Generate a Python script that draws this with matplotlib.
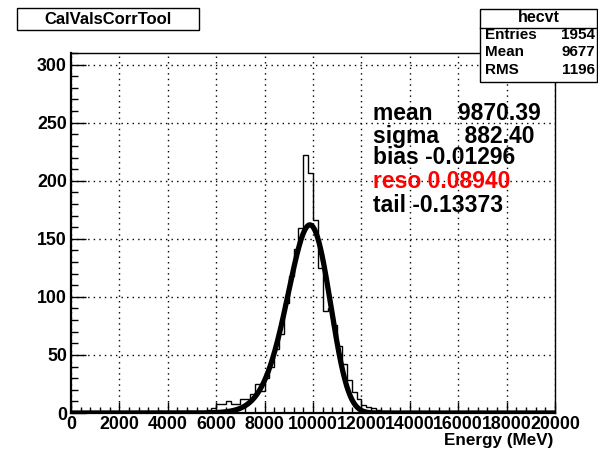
import numpy as np
import matplotlib
matplotlib.use("Agg")
import matplotlib.pyplot as plt
from matplotlib.ticker import MultipleLocator
from matplotlib.patches import Rectangle
from matplotlib.lines import Line2D

plt.rcParams['font.family'] = ['Liberation Sans', 'DejaVu Sans']
plt.rcParams['font.weight'] = 'bold'

# ---- data ----
bin_low = 0
bin_high = 20000
n_bins = 100
counts = [0] * 100
tail_left = {10: 1, 14: 1, 18: 2, 21: 1, 24: 2, 26: 1, 28: 3, 29: 4}
core = [8, 8, 10, 8, 8,            # 6000-7000
        12, 12, 16, 25, 19,        # 7000-8000
        30, 40, 55, 68, 95,        # 8000-9000
        118, 141, 159, 222, 207,   # 9000-10000
        166, 125, 88, 90, 76,      # 10000-11000
        58, 42, 28, 18, 12,        # 11000-12000
        7, 5, 4, 3, 2, 2, 1, 1, 1, 1]  # 12000-14000
for k, v in tail_left.items():
    counts[k] = v
for j, v in enumerate(core):
    counts[30 + j] = v

fit_mean = 9870.39
fit_sigma = 882.40
fit_tail = -0.13373
fit_peak = 162.0
fit_labels = ["mean    9870.39", "sigma    882.40", "bias -0.01296", "reso 0.08940", "tail -0.13373"]
fit_label_colors = ["black", "black", "black", "red", "black"]

stats_name = "hecvt"
stats_rows = [("Entries", "1954"), ("Mean", "9677"), ("RMS", "1196")]
title = "CalValsCorrTool"
xlabel = "Energy (MeV)"

# ---- figure ----
W, H = 598, 451
fig = plt.figure(figsize=(W / 100, H / 100), dpi=100)
fig.patch.set_facecolor('white')
L, R, B, T = 71, 555, 413, 53
ax = fig.add_axes([L / W, 1 - B / H, (R - L) / W, (B - T) / H])

edges = np.linspace(bin_low, bin_high, n_bins + 1)
ax.stairs(counts, edges, color='black', lw=1.0, baseline=0)


def novosibirsk(x, peak, m, s, tau):
    sl4 = np.sqrt(np.log(4.0))
    lam = np.sinh(tau * sl4) / (s * tau * sl4)
    arg = 1.0 + lam * tau * (x - m)
    out = np.zeros_like(x)
    ok = arg > 1e-12
    lg = np.log(arg[ok])
    out[ok] = peak * np.exp(-0.5 * (lg / tau) ** 2 - 0.5 * tau ** 2) / np.exp(-0.5 * tau ** 2)
    return out


xf = np.linspace(bin_low, bin_high, 2000)
ax.plot(xf, novosibirsk(xf, fit_peak, fit_mean, fit_sigma, fit_tail), color='black', lw=3.8,
        solid_capstyle='butt')

ax.set_xlim(bin_low, bin_high)
ax.set_ylim(0, 310)
ax.xaxis.set_major_locator(MultipleLocator(2000))
ax.xaxis.set_minor_locator(MultipleLocator(400))
ax.yaxis.set_major_locator(MultipleLocator(50))
ax.yaxis.set_minor_locator(MultipleLocator(10))
ax.grid(True, which='major', color='black', linestyle=(0, (1, 3)), lw=1.0)
ax.set_axisbelow(True)
ax.tick_params(axis='x', which='major', direction='in', length=8, width=1, labelsize=12.8, pad=2)
ax.tick_params(axis='x', which='minor', direction='in', length=4, width=1)
ax.tick_params(axis='y', which='major', direction='in', length=10.5, width=1, labelsize=12.8, pad=3)
ax.tick_params(axis='y', which='minor', direction='in', length=5, width=1)
ax.xaxis.set_major_formatter(matplotlib.ticker.FuncFormatter(lambda v, p: f"{int(v)}"))
ax.yaxis.set_major_formatter(matplotlib.ticker.FuncFormatter(lambda v, p: f"{int(v)}"))
for lab in ax.get_xticklabels() + ax.get_yticklabels():
    lab.set_fontweight('bold')
for s in ['left', 'bottom']:
    ax.spines[s].set_linewidth(1.6)
for s in ['top', 'right']:
    ax.spines[s].set_linewidth(1.0)

fig.text(553 / W, 1 - 441 / H, xlabel, ha='right', va='center', fontsize=12.3, fontweight='bold')

# fit parameter text
ys = [114, 136, 158, 181, 205]
for t, c, y in zip(fit_labels, fit_label_colors, ys):
    fig.text(373 / W, 1 - y / H, t, ha='left', va='center', fontsize=16.5, fontweight='bold', color=c)

# title box
tx0, tx1, ty0, ty1 = 17, 199, 8, 30
fig.patches.append(Rectangle((tx0 / W, 1 - ty1 / H), (tx1 - tx0) / W, (ty1 - ty0) / H,
                             transform=fig.transFigure, fill=True, facecolor='white',
                             edgecolor='black', lw=1.0))
fig.text((tx0 + tx1) / 2 / W, 1 - (ty0 + ty1) / 2 / H, title, ha='center', va='center',
         fontsize=12, fontweight='bold')

# stats box
sx0, sx1, sy0, sy1 = 480, 597, 9, 82
fig.patches.append(Rectangle((sx0 / W, 1 - sy1 / H), (sx1 - sx0) / W, (sy1 - sy0) / H,
                             transform=fig.transFigure, fill=True, facecolor='white',
                             edgecolor='black', lw=1.0, zorder=5))
fig.lines.append(Line2D([sx0 / W, sx1 / W], [1 - 28 / H, 1 - 28 / H], transform=fig.transFigure,
                        color='black', lw=1.0, zorder=6))
fig.text((sx0 + sx1) / 2 / W, 1 - 18 / H, stats_name, ha='center', va='center', fontsize=11.5,
         fontweight='bold', zorder=7)
for (k, v), y in zip(stats_rows, [35, 52, 70]):
    fig.text(485 / W, 1 - y / H, k, ha='left', va='center', fontsize=11, fontweight='bold', zorder=7)
    fig.text(595 / W, 1 - y / H, v, ha='right', va='center', fontsize=11, fontweight='bold', zorder=7)

fig.savefig("out.png", dpi=100, facecolor='white')
